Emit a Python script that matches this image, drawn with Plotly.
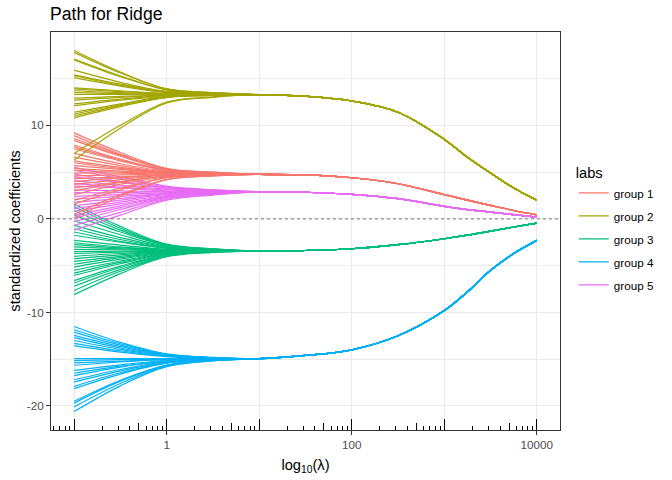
import plotly.graph_objects as go

# lambda grid: own values per line on the left, shared path per group on the right
LAMBDA_HEAD = [0.1, 0.316, 1, 3.16]
LAMBDA_TAIL = [10, 31.6, 100, 316, 1000, 1778, 3162, 5623, 10000]

GROUP_NAMES = ["group 1", "group 2", "group 3", "group 4", "group 5"]
GROUP_COLORS = ["#F8766D", "#A3A500", "#00BF7D", "#00B0F6", "#E76BF3"]

GROUP1_HEADS = [
    [9.2, 7.1, 5.4, 5.0], [8.9, 6.9, 5.3, 5.0], [8.6, 6.8, 5.3, 4.95],
    [8.4, 6.7, 5.3, 4.95], [7.9, 6.4, 5.2, 4.9], [7.7, 6.3, 5.2, 4.9],
    [7.5, 6.2, 5.2, 4.9], [7.0, 5.9, 5.1, 4.9], [6.6, 5.7, 5.0, 4.9],
    [6.2, 5.5, 5.0, 4.85], [6.0, 5.4, 5.0, 4.85], [5.7, 5.3, 4.9, 4.85],
    [5.4, 5.1, 4.9, 4.8], [5.2, 5.0, 4.9, 4.8], [4.9, 4.9, 4.8, 4.8],
    [4.6, 4.7, 4.8, 4.8], [4.3, 4.5, 4.7, 4.8], [4.0, 4.4, 4.7, 4.75],
    [3.7, 4.2, 4.7, 4.75], [3.3, 4.0, 4.6, 4.75], [3.0, 3.9, 4.6, 4.7],
    [2.6, 3.7, 4.5, 4.7], [2.0, 3.3, 4.4, 4.7], [1.6, 3.1, 4.4, 4.65],
    [0.5, 2.6, 4.2, 4.6], [0.1, 2.4, 4.2, 4.6],
]
GROUP1_TAIL = [4.76, 4.7, 4.4, 3.76, 2.6, 2.0, 1.44, 0.9, 0.42]

GROUP2_HEADS = [
    [18.0, 15.7, 13.9, 13.5], [17.8, 15.6, 13.9, 13.5], [17.1, 15.3, 13.8, 13.5],
    [17.0, 15.2, 13.8, 13.4], [15.9, 14.6, 13.6, 13.4], [15.4, 14.4, 13.6, 13.4],
    [15.3, 14.3, 13.6, 13.4], [15.1, 14.2, 13.5, 13.4], [14.0, 13.7, 13.4, 13.3],
    [13.9, 13.6, 13.4, 13.3], [13.7, 13.5, 13.4, 13.3], [13.5, 13.4, 13.3, 13.3],
    [13.3, 13.3, 13.3, 13.3], [12.9, 13.1, 13.2, 13.3], [12.7, 13.0, 13.2, 13.3],
    [12.3, 12.8, 13.2, 13.3], [12.1, 12.7, 13.1, 13.3], [11.4, 12.3, 13.1, 13.2],
    [11.2, 12.2, 13.0, 13.2], [11.0, 12.1, 13.0, 13.2], [10.8, 12.0, 13.0, 13.2],
    [7.0, 10.0, 12.5, 13.05], [6.3, 9.7, 12.4, 13.0],
]
GROUP2_TAIL = [13.28, 13.1, 12.6, 11.4, 8.5, 6.6, 4.9, 3.3, 2.0]

GROUP3_HEADS = [
    [1.6, -0.8, -2.7, -3.2], [1.3, -1.0, -2.75, -3.2], [0.9, -1.2, -2.8, -3.23],
    [0.4, -1.4, -2.85, -3.25], [-0.2, -1.7, -2.95, -3.27], [-0.7, -2.0, -3.0, -3.29],
    [-1.05, -2.2, -3.05, -3.31], [-1.4, -2.4, -3.1, -3.32], [-1.75, -2.5, -3.15, -3.33],
    [-2.3, -2.8, -3.25, -3.36], [-2.55, -3.0, -3.3, -3.37], [-2.75, -3.1, -3.3, -3.37],
    [-3.0, -3.2, -3.35, -3.38], [-3.25, -3.3, -3.4, -3.39], [-3.5, -3.45, -3.4, -3.4],
    [-3.7, -3.55, -3.45, -3.41], [-4.0, -3.7, -3.5, -3.42], [-4.25, -3.85, -3.5, -3.43],
    [-4.55, -4.0, -3.55, -3.45], [-4.85, -4.15, -3.6, -3.46], [-5.15, -4.3, -3.65, -3.47],
    [-5.5, -4.5, -3.7, -3.48], [-5.8, -4.65, -3.75, -3.5], [-6.05, -4.8, -3.8, -3.51],
    [-6.6, -5.05, -3.85, -3.53], [-6.85, -5.2, -3.9, -3.54], [-7.2, -5.4, -3.95, -3.55],
    [-7.65, -5.6, -4.0, -3.57], [-8.1, -5.85, -4.05, -3.59],
]
GROUP3_TAIL = [-3.44, -3.38, -3.19, -2.76, -2.12, -1.74, -1.3, -0.87, -0.45]

GROUP4_HEADS = [
    [-11.5, -13.2, -14.43, -14.81], [-11.85, -13.35, -14.48, -14.83],
    [-12.1, -13.5, -14.52, -14.84], [-12.45, -13.65, -14.57, -14.85],
    [-12.7, -13.8, -14.61, -14.86], [-13.0, -13.95, -14.66, -14.87],
    [-13.3, -14.1, -14.7, -14.88], [-13.55, -14.25, -14.74, -14.89],
    [-14.95, -14.95, -14.95, -14.95], [-15.15, -15.05, -14.98, -14.96],
    [-15.4, -15.2, -15.02, -14.97], [-15.65, -15.3, -15.06, -14.98],
    [-16.2, -15.6, -15.14, -15.0], [-16.5, -15.75, -15.18, -15.01],
    [-16.75, -15.85, -15.22, -15.02], [-17.2, -16.1, -15.29, -15.04],
    [-17.45, -16.25, -15.33, -15.05], [-17.9, -16.45, -15.39, -15.07],
    [-18.15, -16.6, -15.43, -15.08], [-19.5, -17.25, -15.63, -15.13],
    [-19.7, -17.35, -15.66, -15.14], [-20.1, -17.6, -15.72, -15.16],
    [-20.6, -17.85, -15.8, -15.18],
]
GROUP4_TAIL = [-14.95, -14.6, -14.0, -12.5, -9.8, -7.8, -5.5, -3.7, -2.3]

GROUP5_HEADS = [
    [5.5, 4.5, 3.5, 3.1], [5.2, 4.3, 3.4, 3.1], [4.8, 4.0, 3.3, 3.05],
    [4.5, 3.9, 3.3, 3.0], [4.1, 3.6, 3.2, 3.0], [3.8, 3.4, 3.1, 3.0],
    [3.5, 3.3, 3.0, 2.95], [3.1, 3.0, 2.9, 2.9], [2.8, 2.8, 2.9, 2.9],
    [2.4, 2.6, 2.8, 2.85], [2.1, 2.4, 2.7, 2.85], [1.8, 2.2, 2.7, 2.8],
    [1.4, 2.0, 2.6, 2.8], [1.1, 1.8, 2.5, 2.75], [0.8, 1.6, 2.4, 2.75],
    [0.4, 1.4, 2.4, 2.7], [0.1, 1.2, 2.3, 2.7], [-0.3, 1.0, 2.2, 2.65],
    [-0.7, 0.7, 2.1, 2.6], [-1.2, 0.4, 2.0, 2.55],
]
GROUP5_TAIL = [2.9, 2.85, 2.62, 2.16, 1.34, 1.0, 0.73, 0.45, 0.18]

HEADS = [GROUP1_HEADS, GROUP2_HEADS, GROUP3_HEADS, GROUP4_HEADS, GROUP5_HEADS]
TAILS = [GROUP1_TAIL, GROUP2_TAIL, GROUP3_TAIL, GROUP4_TAIL, GROUP5_TAIL]

X_TICKS = [1, 100, 10000]
X_MINOR_GRID = [0.1, 10, 1000]
Y_TICKS = [-20, -10, 0, 10]
Y_MINOR_GRID = [-15, -5, 5, 15]

# annotation_logticks style marks
LOGTICK_LONG = [0.1, 1, 10, 100, 1000, 10000]
LOGTICK_MID = [0.5, 5, 50, 500, 5000]
LOGTICK_SHORT = [m * 10.0 ** e for e in range(-2, 4) for m in (2, 3, 4, 6, 7, 8, 9)]

FONT = "Liberation Sans, Arial, sans-serif"
GRID = "#EBEBEB"
XRANGE = [-1.25, 4.25]
W, H = 672, 480

traces = []
n_max = max(len(h) for h in HEADS)
for i in range(n_max):
    for g, heads in enumerate(HEADS):
        if i >= len(heads):
            continue
        traces.append(go.Scatter(
            x=LAMBDA_HEAD + LAMBDA_TAIL,
            y=heads[i] + TAILS[g],
            mode="lines",
            line=dict(color=GROUP_COLORS[g], width=1.2, shape="spline"),
            name=GROUP_NAMES[g],
            legendgroup=GROUP_NAMES[g],
            showlegend=(i == 0),
            hoverinfo="skip",
        ))

# the last two paths sit on the overlay axes that carry the log tick marks
traces[-1].update(xaxis="x2")
traces[-2].update(xaxis="x3")

fig = go.Figure(traces)

fig.add_shape(type="line", xref="x domain", x0=0, x1=1, yref="y", y0=0, y1=0,
              line=dict(color="#777777", width=1, dash="dot"), layer="above")

logtick_axis = dict(type="log", range=XRANGE, overlaying="x", anchor="y", side="bottom",
                    showgrid=False, zeroline=False, showline=False, showticklabels=False,
                    automargin=False, ticks="inside", tickcolor="black", tickwidth=1)

fig.update_layout(
    width=W, height=H,
    margin=dict(l=51, r=109, t=32, b=50),
    paper_bgcolor="white", plot_bgcolor="white",
    font=dict(family=FONT, color="black"),
    title=dict(text="Path for Ridge", x=50 / W, xref="container", xanchor="left",
               y=1 - 14 / H, yref="container", yanchor="middle",
               font=dict(size=17.6, color="black")),
    xaxis=dict(
        type="log", range=XRANGE, automargin=False,
        tickvals=X_TICKS, ticktext=[str(v) for v in X_TICKS],
        ticks="outside", ticklen=4, tickcolor="#333333", tickwidth=1,
        tickfont=dict(size=11.7, color="#4D4D4D"),
        showgrid=True, gridcolor=GRID, gridwidth=1.07,
        minor=dict(tickvals=X_MINOR_GRID, showgrid=True, gridcolor=GRID, gridwidth=0.53, ticks=""),
        showline=True, linecolor="#333333", linewidth=1, mirror=True, zeroline=False,
        title=dict(text="log<sub>10</sub>(λ)", font=dict(size=14.7), standoff=9),
    ),
    xaxis2=dict(logtick_axis, tickvals=LOGTICK_LONG, ticklen=11,
                minor=dict(tickvals=LOGTICK_SHORT, ticks="inside", ticklen=4,
                           tickcolor="black", tickwidth=1, showgrid=False)),
    xaxis3=dict(logtick_axis, tickvals=LOGTICK_MID, ticklen=7.5),
    yaxis=dict(
        range=[-22.57, 19.98], automargin=False,
        tickvals=Y_TICKS, ticktext=[str(v) for v in Y_TICKS],
        ticks="outside", ticklen=4, tickcolor="#333333", tickwidth=1,
        tickfont=dict(size=11.7, color="#4D4D4D"),
        showgrid=True, gridcolor=GRID, gridwidth=1.07,
        minor=dict(tickvals=Y_MINOR_GRID, showgrid=True, gridcolor=GRID, gridwidth=0.53, ticks=""),
        showline=True, linecolor="#333333", linewidth=1, mirror=True, zeroline=False,
        title=dict(text="standardized coefficients", font=dict(size=14.7), standoff=2),
    ),
    legend=dict(
        x=1.027, xanchor="left", y=0.68, yanchor="top",
        title=dict(text="labs", font=dict(size=14.7)),
        font=dict(size=11.7), tracegroupgap=4, itemwidth=30, bgcolor="rgba(0,0,0,0)",
    ),
)

# drop the browser's default body margin so the figure fills the window exactly
fig.write_html("out.html", config={"displayModeBar": False},
               post_script="document.body.style.margin = '0';")
